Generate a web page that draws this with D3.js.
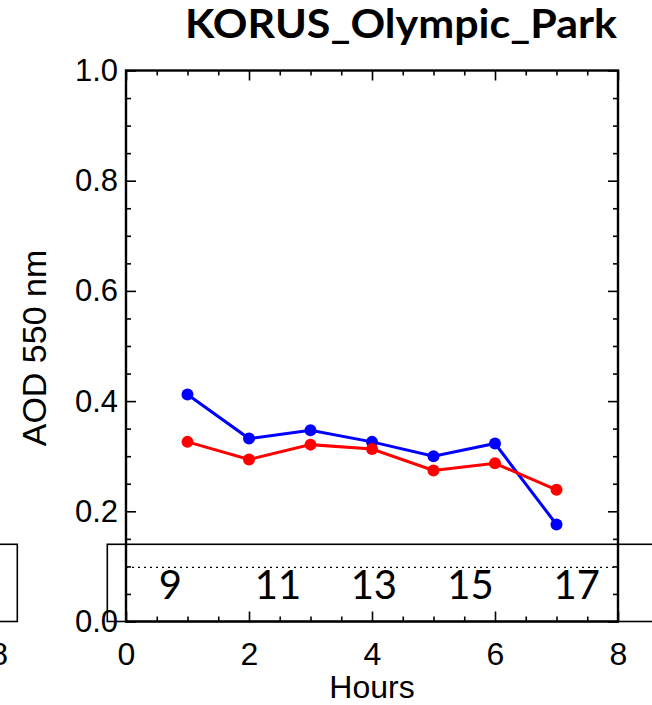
<!DOCTYPE html>
<html>
<head>
<meta charset="utf-8">
<script src="https://cdn.jsdelivr.net/npm/d3@7"></script>
<style>
  html, body { margin: 0; padding: 0; background: #fff; overflow: hidden; }
  svg { display: block; }
</style>
</head>
<body>
<script>
// ---- data ----
const hours = [1, 2, 3, 4, 5, 6, 7];
const aodBlue = [0.412, 0.332, 0.347, 0.326, 0.300, 0.323, 0.176];
const aodRed = [0.326, 0.294, 0.321, 0.313, 0.274, 0.287, 0.239];
const xTickValues = [0, 2, 4, 6, 8];
const yTickValues = [0, 0.2, 0.4, 0.6, 0.8, 1.0];
const localHourLabels = ["9", "11", "13", "15", "17"];
const localHourAt = [0.72, 2.47, 4.03, 5.6, 7.33];
const titleText = "KORUS_Olympic_Park";
const xLabel = "Hours";
const yLabel = "AOD 550 nm";

// ---- layout ----
const W = 652, H = 705;
const x = d3.scaleLinear().domain([0, 8]).range([126, 618]);
const y = d3.scaleLinear().domain([0, 1]).range([621.5, 70.5]);

const svg = d3.select("body").append("svg").attr("width", W).attr("height", H);
const font = "'Liberation Sans', Arial, Helvetica, sans-serif";

// title
svg.append("text")
  .attr("x", 185).attr("y", 38)
  .attr("font-family", "Lato, 'Open Sans', sans-serif")
  .attr("font-weight", "bold").attr("font-size", 40)
  .attr("textLength", 432).attr("lengthAdjust", "spacingAndGlyphs")
  .text(titleText);

function styleAxis(g) {
  g.select(".domain").remove();
  g.selectAll(".tick line").attr("stroke", "#000").attr("stroke-width", 1.6);
  g.selectAll("text").attr("font-family", font).attr("fill", "#000");
}

const minorX = d3.range(0, 8.01, 0.5).filter(v => v % 2 !== 0);
const minorY = d3.range(0, 1.001, 0.05).map(v => +v.toFixed(2)).filter(v => Math.round(v * 100) % 20 !== 0);

// bottom axis major with labels
svg.append("g").attr("transform", `translate(0,${y(0)})`)
  .call(d3.axisBottom(x).tickValues(xTickValues).tickSize(-10).tickPadding(21).tickFormat(d3.format("d")))
  .call(styleAxis)
  .call(g => g.selectAll("text").attr("font-size", 32));
svg.append("g").attr("transform", `translate(0,${y(0)})`)
  .call(d3.axisBottom(x).tickValues(minorX).tickSize(-5).tickFormat(""))
  .call(styleAxis);
// top axis
svg.append("g").attr("transform", `translate(0,${y(1)})`)
  .call(d3.axisTop(x).tickValues(xTickValues).tickSize(-10).tickFormat(""))
  .call(styleAxis);
svg.append("g").attr("transform", `translate(0,${y(1)})`)
  .call(d3.axisTop(x).tickValues(minorX).tickSize(-5).tickFormat(""))
  .call(styleAxis);
// left axis
svg.append("g").attr("transform", `translate(${x(0)},0)`)
  .call(d3.axisLeft(y).tickValues(yTickValues).tickSize(-10).tickPadding(8).tickFormat(d3.format(".1f")))
  .call(styleAxis)
  .call(g => g.selectAll("text").attr("font-size", 31));
svg.append("g").attr("transform", `translate(${x(0)},0)`)
  .call(d3.axisLeft(y).tickValues(minorY).tickSize(-5).tickFormat(""))
  .call(styleAxis);
// right axis
svg.append("g").attr("transform", `translate(${x(8)},0)`)
  .call(d3.axisRight(y).tickValues(yTickValues).tickSize(-10).tickFormat(""))
  .call(styleAxis);
svg.append("g").attr("transform", `translate(${x(8)},0)`)
  .call(d3.axisRight(y).tickValues(minorY).tickSize(-5).tickFormat(""))
  .call(styleAxis);

// frame
svg.append("rect")
  .attr("x", x(0)).attr("y", y(1))
  .attr("width", x(8) - x(0)).attr("height", y(0) - y(1))
  .attr("fill", "none").attr("stroke", "#000").attr("stroke-width", 2.4);

// axis titles
svg.append("text")
  .attr("x", (x(0) + x(8)) / 2).attr("y", 698)
  .attr("text-anchor", "middle").attr("font-family", font).attr("font-size", 32)
  .text(xLabel);
svg.append("text")
  .attr("transform", `translate(46,${(y(0) + y(1)) / 2 + 2}) rotate(-90)`)
  .attr("text-anchor", "middle").attr("font-family", font).attr("font-size", 34)
  .text(yLabel);

// series
const line = d3.line().x((d, i) => x(hours[i])).y(d => y(d));
[[aodBlue, "#0000ff"], [aodRed, "#ff0000"]].forEach(([vals, col]) => {
  svg.append("path").datum(vals).attr("d", line)
    .attr("fill", "none").attr("stroke", col).attr("stroke-width", 3);
  svg.append("g").selectAll("circle").data(vals).join("circle")
    .attr("cx", (d, i) => x(hours[i])).attr("cy", d => y(d)).attr("r", 6)
    .attr("fill", col);
});

// overlay: local-time box
const boxTop = 544.3;
svg.append("rect")
  .attr("x", 107.3).attr("y", boxTop).attr("width", W).attr("height", y(0) - boxTop)
  .attr("fill", "none").attr("stroke", "#000").attr("stroke-width", 1.6);
svg.append("rect")
  .attr("x", -20).attr("y", boxTop).attr("width", 37.3).attr("height", y(0) - boxTop)
  .attr("fill", "none").attr("stroke", "#000").attr("stroke-width", 1.6);
svg.append("line")
  .attr("x1", x(0)).attr("x2", x(8)).attr("y1", 567.3).attr("y2", 567.3)
  .attr("stroke", "#000").attr("stroke-width", 1.2).attr("stroke-dasharray", "2,4");
svg.append("g").selectAll("text").data(localHourLabels).join("text")
  .attr("x", (d, i) => x(localHourAt[i])).attr("y", 599)
  .attr("text-anchor", "middle").attr("font-family", "Lato, 'Open Sans', sans-serif")
  .attr("font-size", 40).text(d => d);

// neighbouring panel remnant (right edge of the adjacent chart's "8")
svg.append("text")
  .attr("x", 8).attr("y", 665).attr("text-anchor", "end")
  .attr("font-family", font).attr("font-size", 32).text("8");
</script>
</body>
</html>
